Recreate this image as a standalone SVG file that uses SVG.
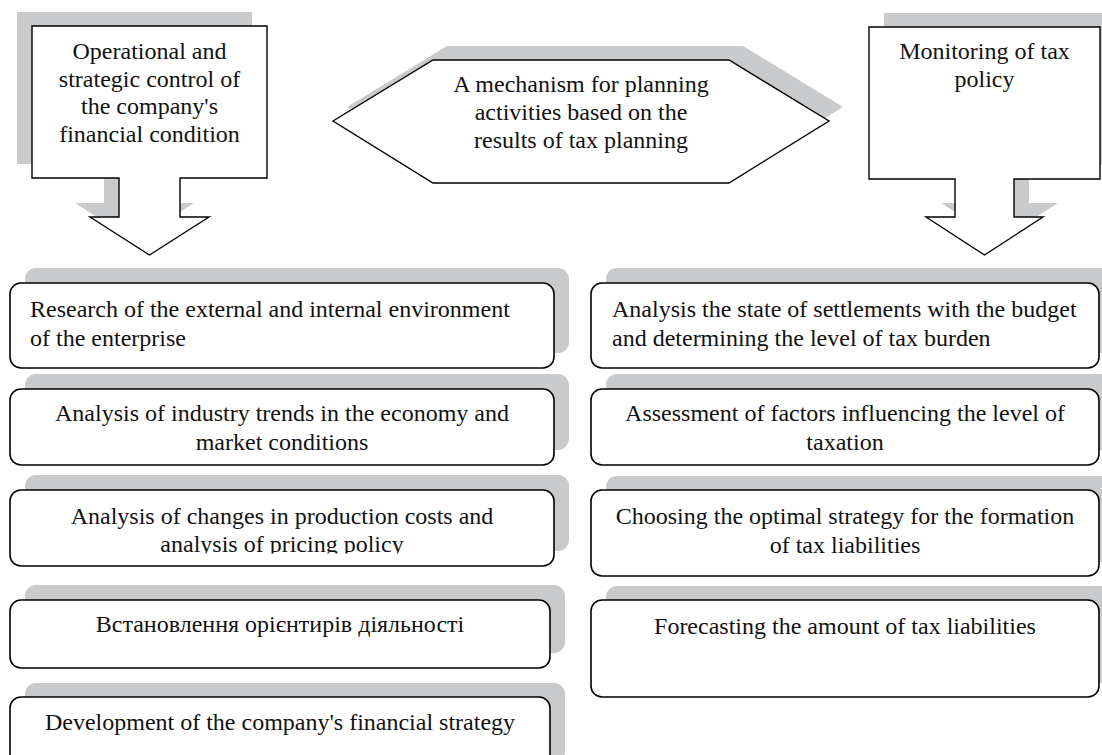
<svg xmlns="http://www.w3.org/2000/svg" width="1102" height="755" viewBox="0 0 1102 755">
  <style>
    .shadow { fill: #c9cacc; stroke: none; }
    .shape { fill: #ffffff; stroke: #000000; stroke-width: 1.4; stroke-linejoin: miter; }
    .card { fill: #ffffff; stroke: #000000; stroke-width: 1.6; }
    .t { font-family: "Liberation Serif", "Times New Roman", serif; font-size: 24px; fill: #111111; }
    .c { text-anchor: middle; }
  </style>
  <defs>
    <clipPath id="clip-costs">
      <rect x="10" y="490" width="544" height="63.5"/>
    </clipPath>
  </defs>
  <rect width="1102" height="755" fill="#ffffff"/>

  <!-- callout: operational and strategic control -->
  <g id="node-control">
    <path class="shadow" d="M17,12 H252 V164 H165 V203 H194 L134.5,241 L75,203 H104 V164 H17 Z"/>
    <path class="shape" d="M32,26 H267 V178 H180 V217 H209 L149.5,255 L90,217 H119 V178 H32 Z"/>
    <text class="t c" x="149.5" y="59">Operational and</text>
    <text class="t c" x="149.5" y="86.7">strategic control of</text>
    <text class="t c" x="149.5" y="114.3">the company's</text>
    <text class="t c" x="149.5" y="142">financial condition</text>
  </g>

  <!-- central hexagon: planning mechanism -->
  <g id="node-mechanism">
    <polygon class="shadow" points="347,107 447,46 743,46 843,107 743,169 447,169"/>
    <polygon class="shape" points="333,121 433,60 729,60 829,121 729,183 433,183"/>
    <text class="t c" x="581" y="92">A mechanism for planning</text>
    <text class="t c" x="581" y="120">activities based on the</text>
    <text class="t c" x="581" y="148">results of tax planning</text>
  </g>

  <!-- callout: monitoring of tax policy -->
  <g id="node-monitoring">
    <path class="shadow" d="M884,13 H1115 V165 H1029 V203 H1058 L999.5,241 L941,203 H970 V165 H884 Z"/>
    <path class="shape" d="M869,27 H1100 V179 H1014 V217 H1043 L984.5,255 L926,217 H955 V179 H869 Z"/>
    <text class="t c" x="984.5" y="59">Monitoring of tax</text>
    <text class="t c" x="984.5" y="86.7">policy</text>
  </g>

  <!-- left column -->
  <g id="node-research">
    <rect class="shadow" x="25" y="268" width="544" height="85" rx="11"/>
    <rect class="card" x="10" y="283" width="544" height="85" rx="11"/>
    <text class="t" x="30" y="317">Research of the external and internal environment</text>
    <text class="t" x="30" y="346">of the enterprise</text>
  </g>
  <g id="node-industry">
    <rect class="shadow" x="25" y="374" width="544" height="76" rx="11"/>
    <rect class="card" x="10" y="389" width="544" height="76" rx="11"/>
    <text class="t c" x="282" y="421">Analysis of industry trends in the economy and</text>
    <text class="t c" x="282" y="450">market conditions</text>
  </g>
  <g id="node-costs">
    <rect class="shadow" x="25" y="475" width="544" height="76" rx="11"/>
    <rect class="card" x="10" y="490" width="544" height="76" rx="11"/>
    <text class="t c" x="282" y="524">Analysis of changes in production costs and</text>
    <text class="t c" x="282" y="552" clip-path="url(#clip-costs)">analysis of pricing policy</text>
  </g>
  <g id="node-guidelines">
    <rect class="shadow" x="25" y="585" width="540" height="68" rx="11"/>
    <rect class="card" x="10" y="600" width="540" height="68" rx="11"/>
    <text class="t c" x="280" y="632">Встановлення орієнтирів діяльності</text>
  </g>
  <g id="node-strategy">
    <rect class="shadow" x="25" y="683" width="540" height="80" rx="11"/>
    <rect class="card" x="10" y="697" width="540" height="80" rx="11"/>
    <text class="t c" x="280" y="730">Development of the company's financial strategy</text>
  </g>

  <!-- right column -->
  <g id="node-settlements">
    <rect class="shadow" x="606" y="268" width="508" height="85" rx="11"/>
    <rect class="card" x="591" y="283" width="508" height="85" rx="11"/>
    <text class="t" x="612" y="317">Analysis the state of settlements with the budget</text>
    <text class="t" x="612" y="346">and determining the level of tax burden</text>
  </g>
  <g id="node-factors">
    <rect class="shadow" x="606" y="374" width="508" height="76" rx="11"/>
    <rect class="card" x="591" y="389" width="508" height="76" rx="11"/>
    <text class="t c" x="845" y="421">Assessment of factors influencing the level of</text>
    <text class="t c" x="845" y="450">taxation</text>
  </g>
  <g id="node-optimal">
    <rect class="shadow" x="606" y="476" width="508" height="86" rx="11"/>
    <rect class="card" x="591" y="490" width="508" height="86" rx="11"/>
    <text class="t c" x="845" y="524">Choosing the optimal strategy for the formation</text>
    <text class="t c" x="845" y="553">of tax liabilities</text>
  </g>
  <g id="node-forecast">
    <rect class="shadow" x="606" y="586" width="508" height="97" rx="11"/>
    <rect class="card" x="591" y="600" width="508" height="97" rx="11"/>
    <text class="t c" x="845" y="634">Forecasting the amount of tax liabilities</text>
  </g>

  <!-- no separate connector lines: the callout arrows belong to their shapes -->
  <g id="connectors"/>
</svg>
